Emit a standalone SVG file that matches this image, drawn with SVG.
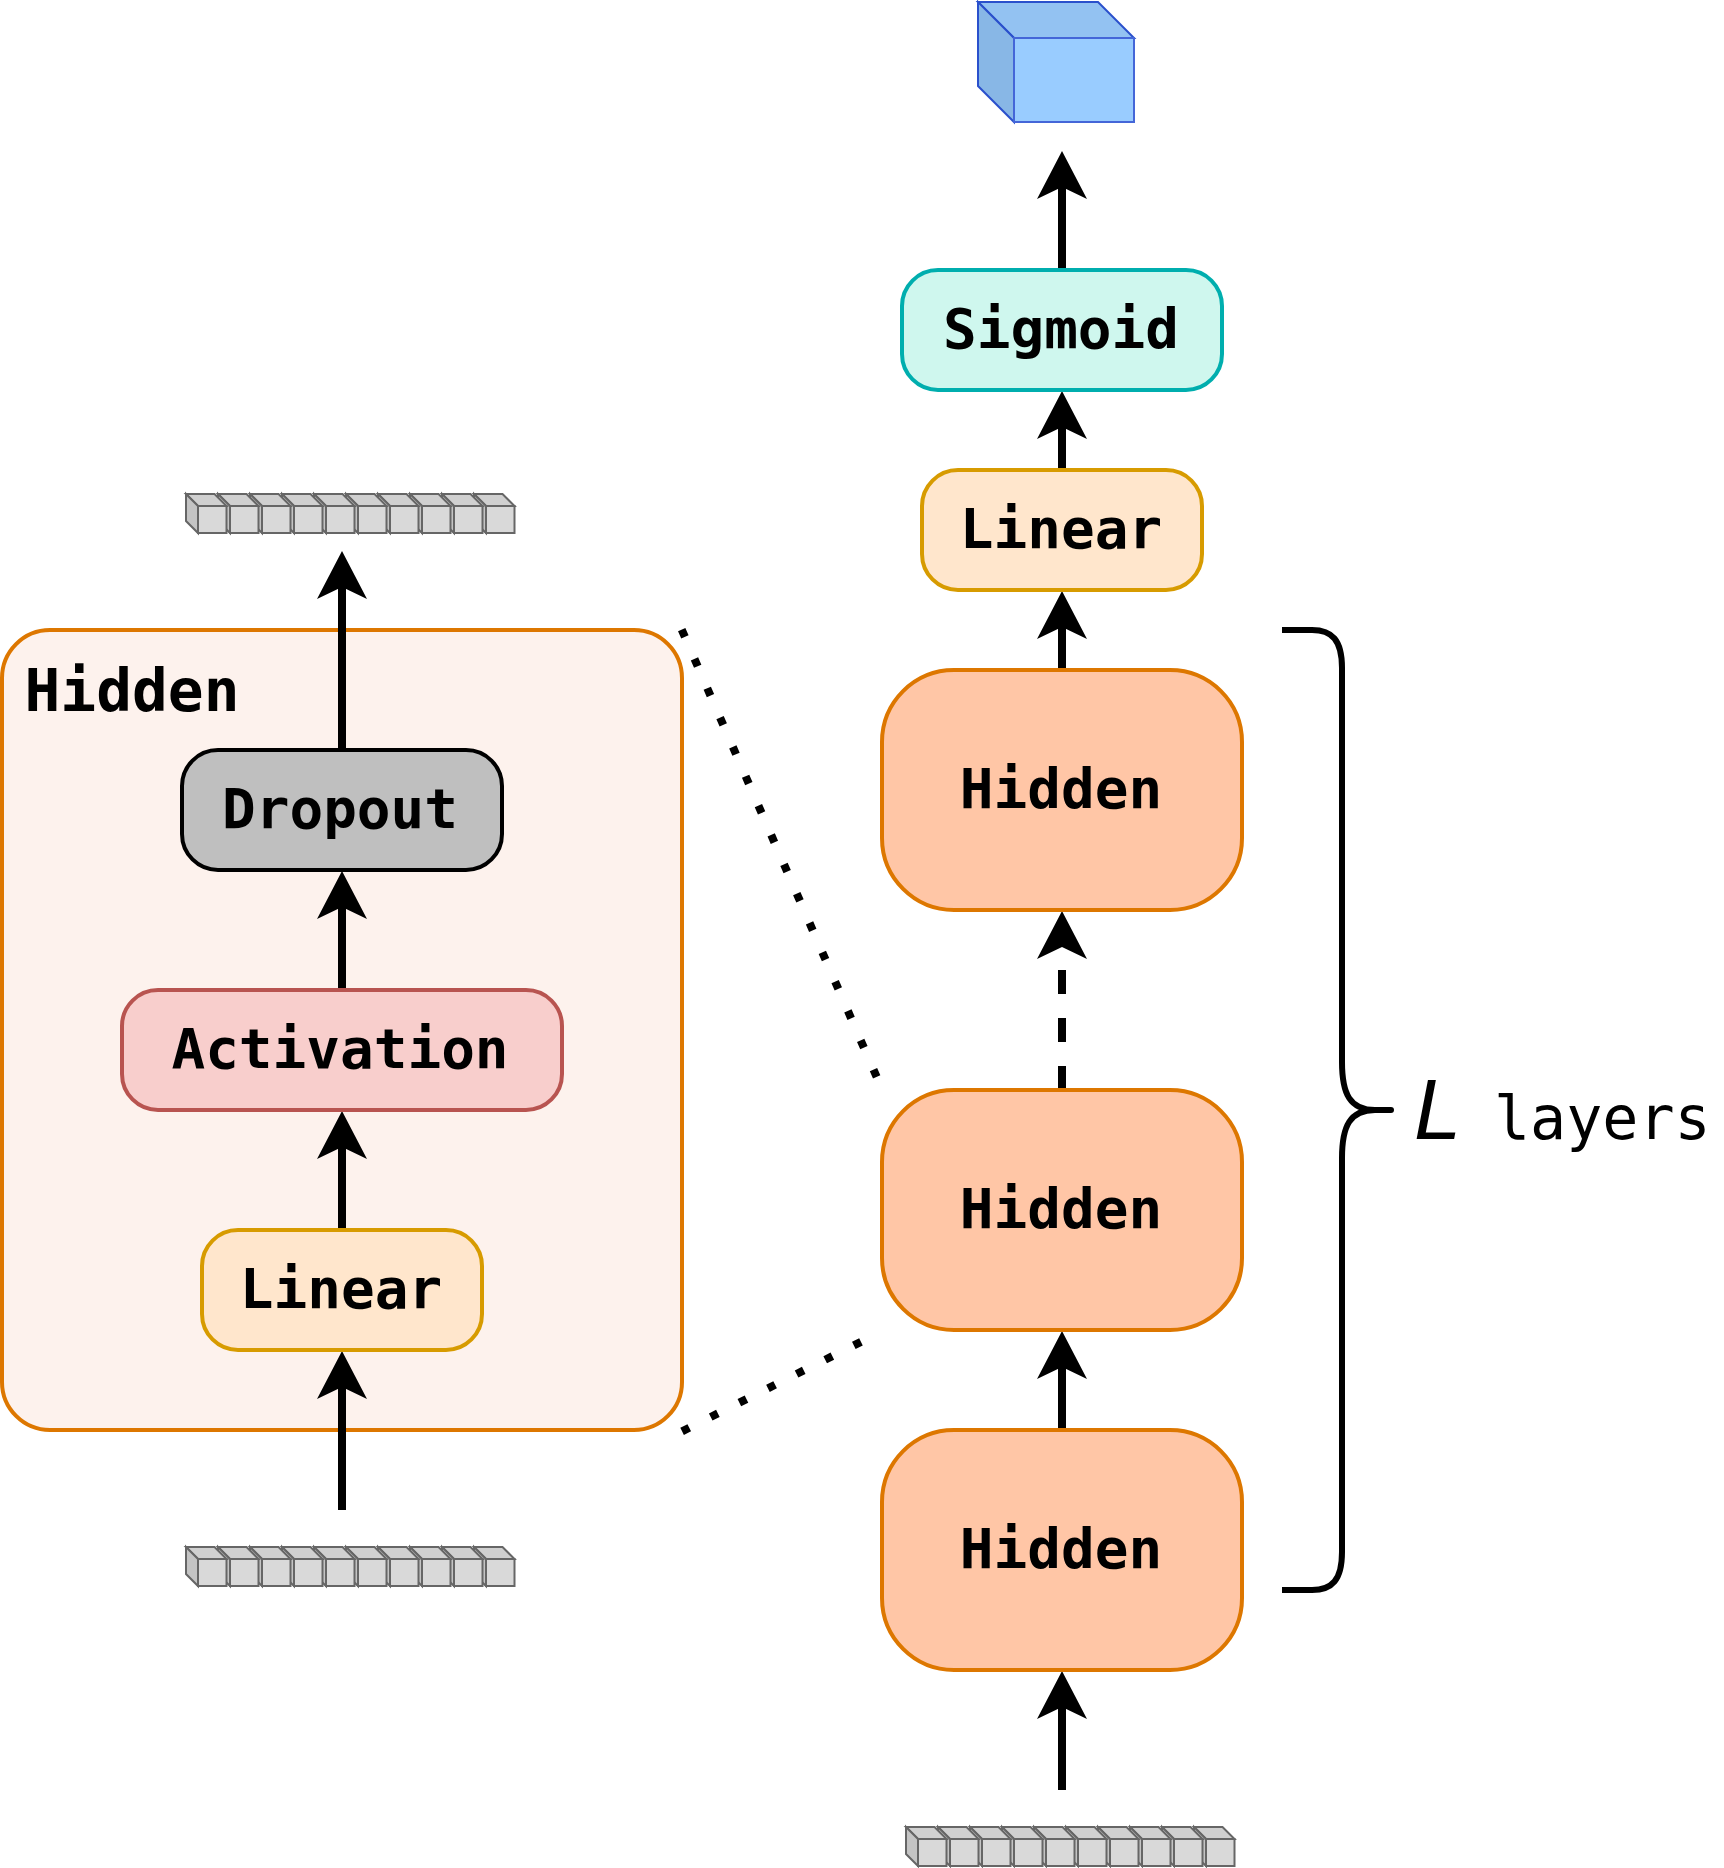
<svg xmlns="http://www.w3.org/2000/svg" width="1724" height="1868" viewBox="0 0 1724 1868">
<style>
.t{font-family:"DejaVu Sans Mono","Liberation Mono",monospace;font-weight:700;font-size:56px;fill:#000;text-anchor:middle}
.h{fill:#ffc6a6;stroke:#dd7700;stroke-width:4}
.l{fill:#ffe6cc;stroke:#d79b00;stroke-width:4}
.c{fill:none;stroke:#000;stroke-width:8}
.d{fill:none;stroke:#000;stroke-width:8;stroke-dasharray:8 24}
.gf{fill:#d9d9d9;stroke:#666;stroke-width:2}
.gt{fill:#d0d0d0;stroke:#666;stroke-width:2}
.gs{fill:#c4c4c4;stroke:#666;stroke-width:2}
</style>
<defs>
<marker id="a" markerUnits="userSpaceOnUse" viewBox="-50 -26 52 52" markerWidth="52" markerHeight="52" refX="-36" refY="0" orient="auto"><path d="M0 0L-48-25L-36 0L-48 25Z" fill="#000"/></marker>
<g id="cube">
<path class="gt" d="M0 0H28.500L40.500 12H12Z"/>
<path class="gs" d="M0 0L12 12V39L0 27Z"/>
<rect class="gf" x="12" y="12" width="28.500" height="27"/>
</g>
<g id="row">
<use href="#cube" x="288"/><use href="#cube" x="256"/><use href="#cube" x="224"/><use href="#cube" x="192"/><use href="#cube" x="160"/><use href="#cube" x="128"/><use href="#cube" x="96"/><use href="#cube" x="64"/><use href="#cube" x="32"/><use href="#cube" x="0"/>
</g>
</defs>
<rect width="1724" height="1868" fill="#fff"/>
<g id="hidden-container"><rect x="2" y="630" width="680" height="800" rx="48" fill="#fdf2ed" stroke="#dd7700" stroke-width="4"/><text class="t" style="font-size:59.500px" x="132" y="711">Hidden</text></g>
<g id="connectors">
<path class="c" d="M1062 270V187" marker-end="url(#a)"/>
<path class="c" d="M1062 470V427" marker-end="url(#a)"/>
<path class="c" d="M1062 670V627" marker-end="url(#a)"/>
<path class="c" d="M1062 1090V947" stroke-dasharray="24 24" marker-end="url(#a)"/>
<path class="c" d="M1062 1430V1367" marker-end="url(#a)"/>
<path class="c" d="M1062 1790V1707" marker-end="url(#a)"/>
<path class="c" d="M342 750V587" marker-end="url(#a)"/>
<path class="c" d="M342 990V907" marker-end="url(#a)"/>
<path class="c" d="M342 1230V1147" marker-end="url(#a)"/>
<path class="c" d="M342 1510V1387" marker-end="url(#a)"/>
<path class="d" d="M681.700 629.600L878 1080"/>
<path class="d" d="M682.100 1431.300L861 1341.800"/>
<path d="M1282 630H1312C1332 630 1342 640 1342 668V1062C1342 1094 1350 1110 1375 1110C1350 1110 1342 1126 1342 1158V1552C1342 1580 1332 1590 1312 1590H1282" fill="none" stroke="#000" stroke-width="6"/>
<path d="M1372 1110H1391" fill="none" stroke="#000" stroke-width="6" stroke-linecap="round"/>
</g>
<g id="output-cube">
<path d="M978 2H1098L1134 38H1014Z" fill="#93c2f2" stroke="#2a50cc" stroke-width="2"/>
<path d="M978 2L1014 38V122L978 86Z" fill="#88b7e6" stroke="#2a50cc" stroke-width="2"/>
<rect x="1014" y="38" width="120" height="84" fill="#99ccff" stroke="#4466d8" stroke-width="2"/>
</g>
<g id="sigmoid"><rect x="902" y="270" width="320" height="120" rx="36" fill="#cff7ee" stroke="#00aeae" stroke-width="4"/><text class="t" x="1061" y="348">Sigmoid</text></g>
<g id="linear-right"><rect class="l" x="922" y="470" width="280" height="120" rx="36"/><text class="t" x="1061" y="548">Linear</text></g>
<g id="hidden-1"><rect class="h" x="882" y="670" width="360" height="240" rx="72"/><text class="t" x="1061" y="808">Hidden</text></g>
<g id="hidden-2"><rect class="h" x="882" y="1090" width="360" height="240" rx="72"/><text class="t" x="1061" y="1228">Hidden</text></g>
<g id="hidden-3"><rect class="h" x="882" y="1430" width="360" height="240" rx="72"/><text class="t" x="1061" y="1568">Hidden</text></g>
<g id="dropout"><rect x="182" y="750" width="320" height="120" rx="36" fill="#bfbfbf" stroke="#000" stroke-width="4"/><text class="t" x="340" y="828">Dropout</text></g>
<g id="activation"><rect x="122" y="990" width="440" height="120" rx="36" fill="#f8cecc" stroke="#b85450" stroke-width="4"/><text class="t" x="340" y="1068">Activation</text></g>
<g id="linear-left"><rect class="l" x="202" y="1230" width="280" height="120" rx="36"/><text class="t" x="341" y="1308">Linear</text></g>
<g id="input-left-top"><use href="#row" x="186" y="494"/></g>
<g id="input-left-bottom"><use href="#row" x="186" y="1547"/></g>
<g id="input-right"><use href="#row" x="906" y="1827"/></g>
<g id="brace-label"><text x="1414" y="1139" font-family="Liberation Sans, sans-serif" font-style="italic" font-size="85" fill="#000">L</text><text x="1494" y="1139" font-family="DejaVu Sans Mono, monospace" font-size="60" fill="#000">layers</text></g>
</svg>
